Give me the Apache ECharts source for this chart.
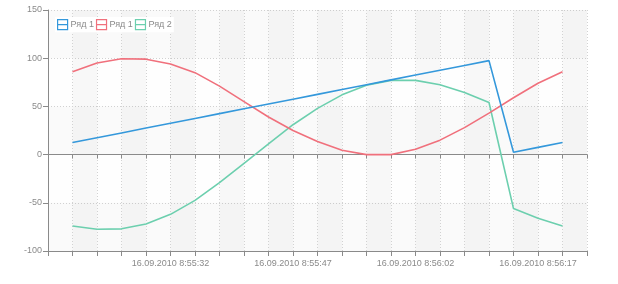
<!DOCTYPE html>
<html>
<head>
<meta charset="utf-8">
<script src="https://cdn.jsdelivr.net/npm/echarts@6/dist/echarts.min.js"></script>
<style>
html,body{margin:0;padding:0;background:#fff;}
#c{width:618px;height:284px;}
</style>
</head>
<body>
<div id="c"></div>
<script>
const times = [
  '16.09.2010 8:55:20','16.09.2010 8:55:23','16.09.2010 8:55:26','16.09.2010 8:55:29',
  '16.09.2010 8:55:32','16.09.2010 8:55:35','16.09.2010 8:55:38','16.09.2010 8:55:41',
  '16.09.2010 8:55:44','16.09.2010 8:55:47','16.09.2010 8:55:50','16.09.2010 8:55:53',
  '16.09.2010 8:55:56','16.09.2010 8:55:59','16.09.2010 8:56:02','16.09.2010 8:56:05',
  '16.09.2010 8:56:08','16.09.2010 8:56:11','16.09.2010 8:56:14','16.09.2010 8:56:17',
  '16.09.2010 8:56:20'
];
const labeledTimes = ['16.09.2010 8:55:32','16.09.2010 8:55:47','16.09.2010 8:56:02','16.09.2010 8:56:17'];
const seriesNames = ['Ряд 1', 'Ряд 1', 'Ряд 2'];
const blueValues = [12.5,17.5,22.5,27.5,32.5,37.5,42.5,47.5,52.5,57.5,62.5,67.5,72.5,77.5,82.5,87.5,92.5,97.5,2.5,7.5,12.5];
const redValues = [86,95,99.5,99,94,85,71,55,39,25,13.5,4.5,0,0,5.5,15,28,43,59,74,86];
const greenValues = [-74,-77.5,-77,-72,-62,-47.5,-29,-9,11,31,48,62,72,77,77,72.5,64.5,54,-56,-66,-74];
const yTicks = [-100,-50,0,50,100,150];
const colors = ['#3498db','#f0707c','#6ccfae'];

const font = '"Liberation Sans", Arial, sans-serif';
function pts(vals){ return vals.map((v,i)=>[i,v]); }
const allVals = [blueValues, redValues, greenValues];
const legendIcon = 'path://M0,0H10V10H0Z M0,5H10';

const chart = echarts.init(document.getElementById('c'), null, {renderer:'canvas'});
chart.setOption({
  animation:false,
  backgroundColor:'#fff',
  grid:{left:48,right:31,top:10,bottom:33},
  legend:{
    left:55, top:17,
    orient:'horizontal',
    backgroundColor:'#fff',
    padding:[2,2,2,2],
    itemGap:2,
    itemWidth:10, itemHeight:10,
    textStyle:{color:'#8a8a8a',fontSize:9,fontFamily:font, padding:[0,0,0,-2]},
    formatter: n => n.trim(),
    data: seriesNames.map((n,i)=>({
      name: n + ' '.repeat(i),
      icon: legendIcon,
      itemStyle:{color:'rgba(0,0,0,0)', borderColor:colors[i], borderWidth:1.2}
    }))
  },
  xAxis:[{
    type:'value', min:-1, max:times.length, interval:1,
    axisLine:{onZero:false, lineStyle:{color:'#8a8a8a'}},
    axisTick:{length:5, lineStyle:{color:'#8a8a8a'}},
    axisLabel:{
      color:'#8a8a8a', fontSize:9, fontFamily:font, margin:8,
      formatter: v => (times[v] && labeledTimes.indexOf(times[v])>=0) ? times[v] : ''
    },
    splitLine:{show:true, lineStyle:{color:'#d2d2d2', type:[1,2]}},
    splitArea:{show:true, areaStyle:{color:['rgba(0,0,0,0.004)','rgba(0,0,0,0.028)']}}
  },{
    type:'value', min:-1, max:times.length, interval:1, position:'top',
    axisLine:{onZero:true, lineStyle:{color:'#8a8a8a'}},
    axisTick:{inside:true, length:4, lineStyle:{color:'#8a8a8a'}},
    axisLabel:{show:false},
    splitLine:{show:false}
  }],
  yAxis:{
    type:'value', min:yTicks[0], max:yTicks[yTicks.length-1], interval:50,
    axisLine:{show:true, onZero:false, lineStyle:{color:'#8a8a8a'}},
    axisTick:{show:true, length:5, lineStyle:{color:'#8a8a8a'}},
    axisLabel:{color:'#8a8a8a', fontSize:9, fontFamily:font, margin:6},
    splitLine:{show:true, lineStyle:{color:'#d2d2d2', type:[1,2]}},
    splitArea:{show:true, areaStyle:{color:['rgba(0,0,0,0.014)','rgba(0,0,0,0)']}}
  },
  series: allVals.map((vals,i)=>({
    name: seriesNames[i] + ' '.repeat(i),
    type:'line',
    xAxisIndex:0,
    data: pts(vals),
    showSymbol:false,
    symbol:'none',
    lineStyle:{color:colors[i], width:1.6},
    itemStyle:{color:colors[i]},
    z: 3 - i
  }))
});
</script>
</body>
</html>
